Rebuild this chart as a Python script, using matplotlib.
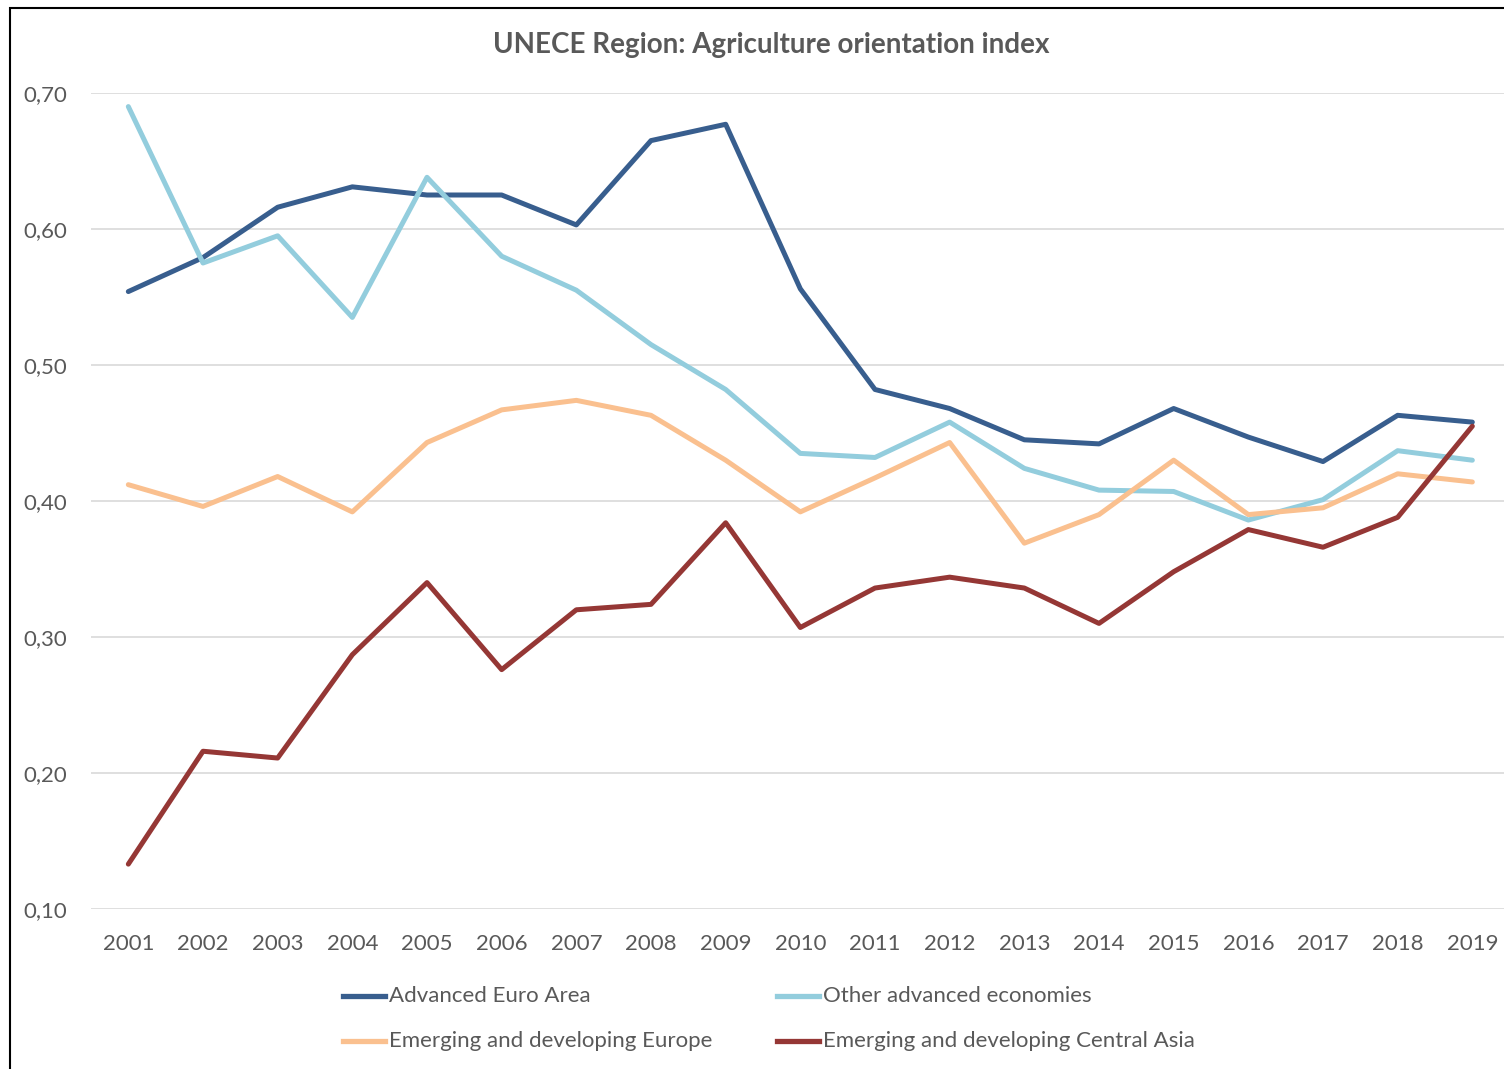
import matplotlib
matplotlib.use("Agg")
import matplotlib.pyplot as plt
from matplotlib.lines import Line2D
from matplotlib.patches import Rectangle
from matplotlib.ticker import FuncFormatter

years = list(range(2001, 2020))

advanced_euro = [0.554, 0.579, 0.616, 0.631, 0.625, 0.625, 0.603, 0.665, 0.677, 0.556,
                 0.482, 0.468, 0.445, 0.442, 0.468, 0.447, 0.429, 0.463, 0.458]
other_advanced = [0.690, 0.575, 0.595, 0.535, 0.638, 0.580, 0.555, 0.515, 0.482, 0.435,
                  0.432, 0.458, 0.424, 0.408, 0.407, 0.386, 0.401, 0.437, 0.430]
emerging_europe = [0.412, 0.396, 0.418, 0.392, 0.443, 0.467, 0.474, 0.463, 0.430, 0.392,
                   0.417, 0.443, 0.369, 0.390, 0.430, 0.390, 0.395, 0.420, 0.414]
central_asia = [0.133, 0.216, 0.211, 0.287, 0.340, 0.276, 0.320, 0.324, 0.384, 0.307,
                0.336, 0.344, 0.336, 0.310, 0.348, 0.379, 0.366, 0.388, 0.455]

series = [
    ("Advanced Euro Area", advanced_euro, "#385E8E"),
    ("Other advanced economies", other_advanced, "#93CDDD"),
    ("Emerging and developing Europe", emerging_europe, "#FAC08F"),
    ("Emerging and developing Central Asia", central_asia, "#953735"),
]

W, H = 1504, 1069
FONT = "Lato"
TXT = "#595959"

fig = plt.figure(figsize=(W / 100, H / 100), dpi=100)
fig.patch.set_facecolor("white")

# chart frame (only left/top edges visible in the crop)
fig.add_artist(Rectangle((10 / W, -0.05), 1.2, (H - 8) / H + 0.05, transform=fig.transFigure,
                         fill=False, edgecolor="black", linewidth=1.5))

left, right, bottom, top = 91, 1504, H - 909, H - 93
ax = fig.add_axes([left / W, bottom / H, (right - left) / W, (top - bottom) / H])
step = (1472 - 128) / 18
ax.set_xlim(2000.5, 2000.5 + (right - left) / step)
ax.set_ylim(0.10, 0.70)

for name, vals, col in series:
    ax.plot(years, vals, color=col, linewidth=3.6, solid_capstyle="round", zorder=3)

ax.set_yticks([0.1, 0.2, 0.3, 0.4, 0.5, 0.6, 0.7])
ax.yaxis.set_major_formatter(FuncFormatter(lambda v, p: f"{v:.2f}".replace(".", ",")))
ax.set_xticks(years)
ax.grid(axis="y", color="#D9D9D9", linewidth=1.2, zorder=0)
ax.tick_params(axis="both", length=0, labelsize=16, colors=TXT)
ax.tick_params(axis="y", pad=17)
ax.tick_params(axis="x", pad=18)
for lab in ax.get_xticklabels() + ax.get_yticklabels():
    lab.set_fontfamily(FONT)
for sp in ax.spines.values():
    sp.set_visible(False)

fig.text(771 / W, 1 - 45 / H, "UNECE Region: Agriculture orientation index",
         ha="center", va="center", fontsize=20, fontweight="bold", color=TXT, family=FONT)

# legend, two columns
pos = [(343, 996), (777, 996), (343, 1041), (777, 1041)]
for (name, vals, col), (lx, ly) in zip(series, pos):
    fig.add_artist(Line2D([lx / W, (lx + 42) / W], [1 - ly / H, 1 - ly / H],
                          transform=fig.transFigure, color=col, linewidth=3.8))
    fig.text((lx + 46) / W, 1 - ly / H, name, ha="left", va="center",
             fontsize=16, color=TXT, family=FONT)

fig.savefig("out.png", dpi=100, facecolor="white")
